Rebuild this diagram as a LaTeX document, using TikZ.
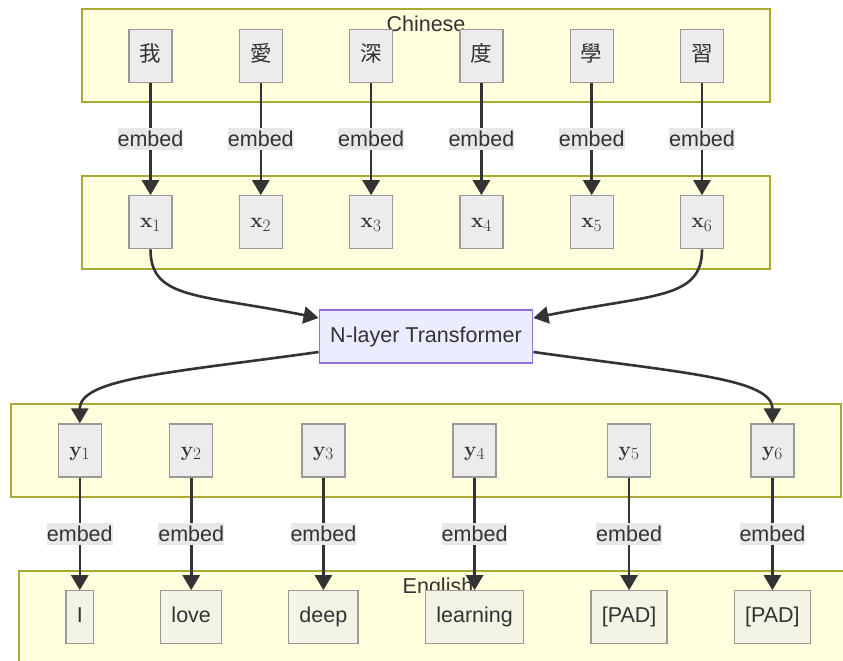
\documentclass[tikz,border=0pt]{standalone}
\usepackage[no-math]{fontspec}
\setmainfont{Liberation Sans}
\newfontfamily\cjk{Noto Sans CJK TC}
\DeclareMathSizes{21.5}{21.5}{17}{13}
\usetikzlibrary{arrows.meta}

\definecolor{ink}{HTML}{333333}
\definecolor{clusterfill}{HTML}{FFFFDE}
\definecolor{clusterline}{HTML}{AAAA33}
\definecolor{tokfill}{HTML}{ECECEC}
\definecolor{tokline}{HTML}{999999}
\definecolor{wordfill}{HTML}{F4F4E4}
\definecolor{lblfill}{HTML}{E8E8E8}
\definecolor{tffill}{HTML}{ECECFF}
\definecolor{tfline}{HTML}{9370DB}

\begin{document}
\begin{tikzpicture}[x=1pt,y=-1pt,
    every node/.style={font=\fontsize{21.5}{25}\selectfont,text=ink},
    cluster/.style={draw=clusterline,fill=clusterfill,line width=1.2pt},
    tok/.style={draw=tokline,fill=tokfill,line width=1.3pt,minimum width=43pt,
      minimum height=53pt,inner sep=0pt,text height=15.5pt,text depth=4.5pt},
    word/.style={draw=tokline,fill=wordfill,line width=1.3pt,minimum height=53pt,
      inner xsep=10.7pt,inner ysep=0pt,text height=15.5pt,text depth=4.5pt},
    tf/.style={draw=tfline,fill=tffill,line width=1.3pt,minimum height=53pt,
      inner xsep=11pt,inner ysep=0pt,text height=15.5pt,text depth=4.5pt},
    arr/.style={draw=ink,line width=2.6pt,-{Triangle[width=17pt,length=15pt]}},
    lbl/.style={fill=lblfill,inner xsep=0pt,inner ysep=3pt,text height=15.5pt,text depth=1pt}]
        \useasboundingbox (0,0) rectangle (843,661);
        \clip (0,0) rectangle (843,661);

        %% groups
        \draw[cluster] (82,9) rectangle (770,102);
        \node[anchor=base] (zhname) at (426,31.7) {Chinese};
        \draw[cluster] (82,176) rectangle (770,269);
        \draw[cluster] (11,404) rectangle (841,497);
        \draw[cluster] (19,571) rectangle (880,700);
        \node[anchor=base] (enname) at (438,593) {English};

        %% source characters
        \node[tok] (c1) at (150.5,55.7) {\cjk 我};
        \node[tok] (c2) at (260.8,55.7) {\cjk 愛};
        \node[tok] (c3) at (371.1,55.7) {\cjk 深};
        \node[tok] (c4) at (481.4,55.7) {\cjk 度};
        \node[tok] (c5) at (591.7,55.7) {\cjk 學};
        \node[tok] (c6) at (702,55.7) {\cjk 習};

        %% source vectors
        \node[tok] (x1) at (150.5,222.3) {$\mathbf{x}_1$};
        \node[tok] (x2) at (260.8,222.3) {$\mathbf{x}_2$};
        \node[tok] (x3) at (371.1,222.3) {$\mathbf{x}_3$};
        \node[tok] (x4) at (481.4,222.3) {$\mathbf{x}_4$};
        \node[tok] (x5) at (591.7,222.3) {$\mathbf{x}_5$};
        \node[tok] (x6) at (702,222.3) {$\mathbf{x}_6$};

        %% model
        \node[tf] (tf) at (426,336.5) {N-layer Transformer};

        %% target vectors
        \node[tok] (y1) at (79.8,450.5) {$\mathbf{y}_1$};
        \node[tok] (y2) at (191.2,450.5) {$\mathbf{y}_2$};
        \node[tok] (y3) at (323.4,450.5) {$\mathbf{y}_3$};
        \node[tok] (y4) at (474.6,450.5) {$\mathbf{y}_4$};
        \node[tok] (y5) at (629.1,450.5) {$\mathbf{y}_5$};
        \node[tok] (y6) at (772.4,450.5) {$\mathbf{y}_6$};

        %% target words
        \node[word] (w1) at (79.8,617.3) {I};
        \node[word] (w2) at (191.2,617.3) {love};
        \node[word] (w3) at (323.4,617.3) {deep};
        \node[word] (w4) at (474.6,617.3) {learning};
        \node[word] (w5) at (629.1,617.3) {[PAD]};
        \node[word] (w6) at (772.4,617.3) {[PAD]};

        %% embeddings, top
        \draw[arr] (c1) -- node[lbl] (ec1) {embed} (x1);
        \draw[arr] (c2) -- node[lbl] (ec2) {embed} (x2);
        \draw[arr] (c3) -- node[lbl] (ec3) {embed} (x3);
        \draw[arr] (c4) -- node[lbl] (ec4) {embed} (x4);
        \draw[arr] (c5) -- node[lbl] (ec5) {embed} (x5);
        \draw[arr] (c6) -- node[lbl] (ec6) {embed} (x6);

        %% into and out of the model
        \draw[arr] (x1.south) .. controls +(0,50) and +(-120,-24) .. ([yshift=18.5pt]tf.west);
        \draw[arr] (x6.south) .. controls +(0,50) and +(120,-24) .. ([yshift=18.5pt]tf.east);
        \draw[arr] ([yshift=-15.5pt]tf.west) .. controls +(-150,21) and +(0,-45) .. (y1.north);
        \draw[arr] ([yshift=-15.5pt]tf.east) .. controls +(150,21) and +(0,-45) .. (y6.north);

        %% embeddings, bottom
        \draw[arr] (y1) -- node[lbl] (ew1) {embed} (w1);
        \draw[arr] (y2) -- node[lbl] (ew2) {embed} (w2);
        \draw[arr] (y3) -- node[lbl] (ew3) {embed} (w3);
        \draw[arr] (y4) -- node[lbl] (ew4) {embed} (w4);
        \draw[arr] (y5) -- node[lbl] (ew5) {embed} (w5);
        \draw[arr] (y6) -- node[lbl] (ew6) {embed} (w6);
\end{tikzpicture}
\end{document}
